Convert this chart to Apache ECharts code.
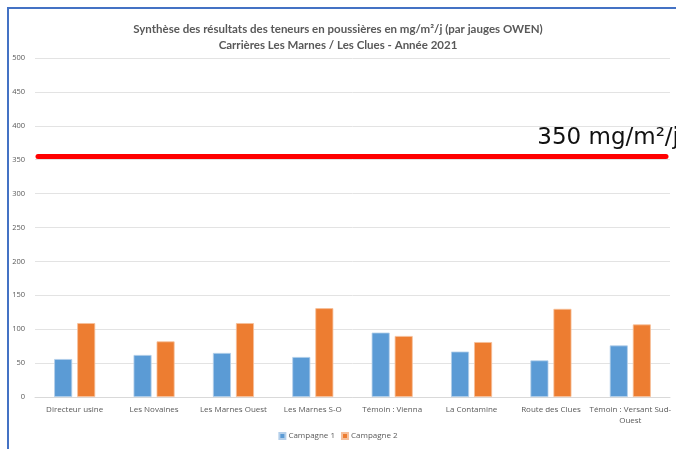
<!DOCTYPE html>
<html>
<head>
<meta charset="utf-8">
<script src="https://cdn.jsdelivr.net/npm/echarts@6/dist/echarts.min.js"></script>
<style>
  html, body { margin: 0; padding: 0; background: #fff; overflow: hidden; }
  #frame {
    position: absolute; left: 7px; top: 7px; width: 680px; height: 450px;
    border-left: 2px solid #4472c4; border-top: 2px solid #4472c4;
  }
  #chart { position: absolute; left: 0; top: 0; width: 676px; height: 449px; }
</style>
</head>
<body>
<div id="frame"></div>
<div id="chart"></div>
<script>
// stations de mesure (jauges OWEN)
const categories = ['Directeur usine', 'Les Novaines', 'Les Marnes Ouest', 'Les Marnes S-O',
  'Témoin : Vienna', 'La Contamine', 'Route des Clues', 'Témoin : Versant Sud-\nOuest']
const campagne1 = [56, 62, 65, 59, 95, 67, 54, 76]
const campagne2 = [109, 82, 109, 131, 90, 81, 130, 107]
const seuil = 355
const seuilLabel = '350 mg/m²/j'

const grey = '#595959'
const font = '"Open Sans", "Liberation Sans", sans-serif'

let option = {
  animation: false,
  title: {
    text: 'Synthèse des résultats des teneurs en poussières en mg/m²/j (par jauges OWEN)\nCarrières Les Marnes / Les Clues - Année 2021',
    left: 'center',
    top: 16,
    textStyle: { fontSize: 11.5, fontWeight: 'bold', color: grey, lineHeight: 16, fontFamily: 'Lato, sans-serif' }
  },
  legend: {
    data: ['Campagne 1', 'Campagne 2'],
    bottom: 4,
    left: 'center',
    itemWidth: 6,
    itemHeight: 6,
    itemGap: 6,
    icon: 'rect',
    textStyle: { fontSize: 8, color: grey, fontFamily: font, padding: [0, 0, 0, -2] }
  },
  grid: { left: 35, right: 6, top: 58, bottom: 52, containLabel: false },
  xAxis: {
    type: 'category',
    data: categories,
    axisTick: { show: false },
    axisLine: { lineStyle: { color: '#d9d9d9' } },
    axisLabel: { color: grey, fontSize: 8, fontFamily: font, lineHeight: 11, interval: 0, margin: 7 }
  },
  yAxis: {
    type: 'value',
    min: 0,
    max: 500,
    interval: 50,
    axisLabel: { color: grey, fontSize: 7.5, fontFamily: font, margin: 10 },
    splitLine: { lineStyle: { color: '#e3e3e3' } }
  },
  series: [
    {
      name: 'Campagne 1',
      type: 'bar',
      data: campagne1,
      barWidth: 18,
      barGap: '28%',
      itemStyle: { color: '#5b9bd5', borderColor: '#b4cfea', borderWidth: 0.8 },
      markLine: {
        silent: true,
        symbol: 'none',
        data: [[{ yAxis: seuil, x: 38 }, { yAxis: seuil, x: 666 }]],
        lineStyle: { color: '#ff0000', width: 5, type: 'solid', cap: 'round' },
        label: { show: false }
      }
    },
    {
      name: 'Campagne 2',
      type: 'bar',
      data: campagne2,
      barWidth: 18,
      itemStyle: { color: '#ed7d31', borderColor: '#f6c09b', borderWidth: 0.8 }
    }
  ],
  graphic: [{
    type: 'text',
    right: -3,
    top: 127,
    style: { text: seuilLabel, fontSize: 23, fill: '#111', fontFamily: '"DejaVu Sans", sans-serif' }
  }]
}

let myChart = echarts.init(document.getElementById('chart'), null, { renderer: 'canvas' })
myChart.setOption(option)
</script>
</body>
</html>
